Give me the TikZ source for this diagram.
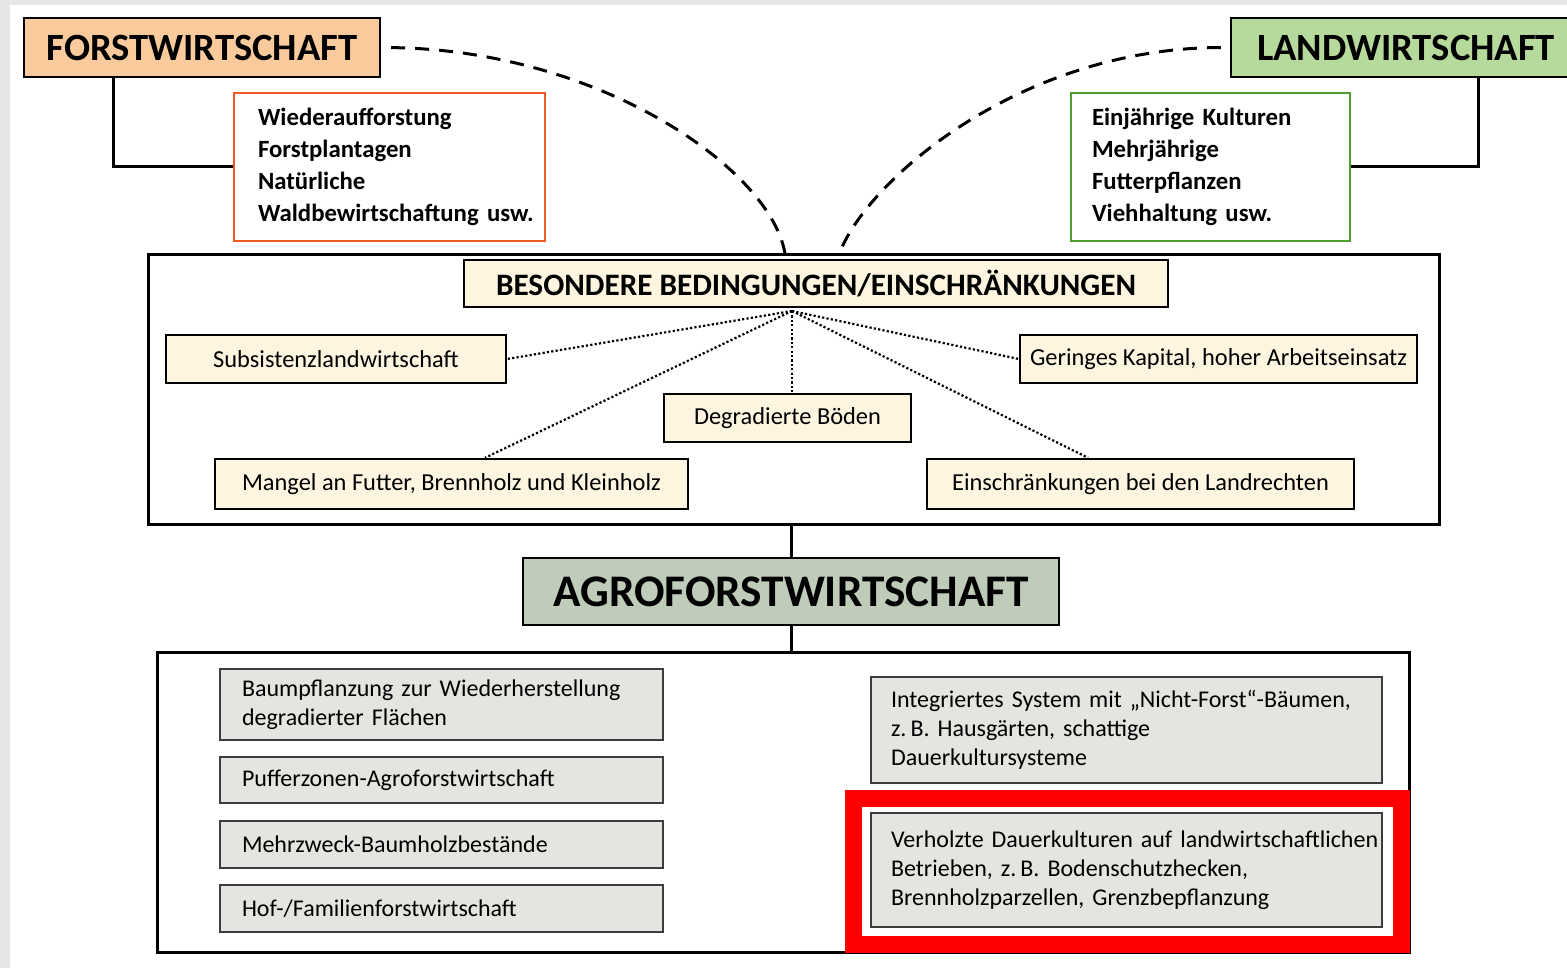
\documentclass[tikz,border=0pt]{standalone}
\usepackage{fontspec}
\setmainfont{Carlito}
\definecolor{bggray}{HTML}{E6E6E6}
\definecolor{peach}{HTML}{F9CB9C}
\definecolor{lgreen}{HTML}{B6D99C}
\definecolor{orangeb}{HTML}{F15A22}
\definecolor{greenb}{HTML}{4F9F2F}
\definecolor{cream}{HTML}{FDF5E0}
\definecolor{agrofill}{HTML}{C0CCBA}
\definecolor{boxgray}{HTML}{E2E5E0}
\definecolor{boxline}{HTML}{3C3C3C}
\definecolor{hlred}{HTML}{FF0000}
\begin{document}
\begin{tikzpicture}[x=0.5pt,y=-0.5pt,
  headbox/.style={draw=black,line width=1.2pt,inner sep=0pt,minimum height=29.5pt,
    font=\bfseries\fontsize{19.3}{23}\selectfont},
  listbox/.style={line width=1.3pt,fill=white,inner ysep=0pt,align=left,minimum height=74pt,
    font=\bfseries\fontsize{12.4}{16}\selectfont},
  condbox/.style={draw=black,line width=1.2pt,fill=cream,inner sep=0pt,
    font=\fontsize{12.2}{15}\selectfont},
  frame/.style={draw=black,line width=1.5pt,inner sep=0pt},
  agrobox/.style={draw=boxline,line width=1pt,fill=boxgray,inner ysep=0pt,align=left,
    font=\fontsize{12}{14.5}\selectfont},
  solidcon/.style={draw=black,line width=1.5pt},
  dashcon/.style={draw=black,line width=1.5pt,dash pattern=on 7pt off 5pt},
  dotcon/.style={draw=black,line width=1.1pt,dash pattern=on 1.1pt off 1.1pt}
]
\useasboundingbox (0,0) rectangle (1567,968);
\fill[bggray] (0,0) rectangle (1567,968);
\fill[white] (10,5) rectangle (1567,968);

% top
\node[headbox,fill=peach,minimum width=178pt] (forst) at (202,47.5) {FORSTWIRTSCHAFT};
\node[headbox,fill=lgreen,minimum width=175pt] (land) at (1406,47.5) {LANDWIRTSCHAFT};

\node[listbox,draw=orangeb,text width=131.5pt,inner xsep=12pt] (orange) at (389.5,167)
  {Wiederaufforstung\\Forstplantagen\\Natürliche\\\mbox{Waldbewirtschaftung usw.}};
\node[listbox,draw=greenb,text width=118.5pt,inner xsep=10.5pt] (green) at (1210.5,167)
  {Einjährige Kulturen\\Mehrjährige\\Futterpflanzen\\Viehhaltung usw.};

\coordinate (fx) at (113,0);
\coordinate (lx) at (1478,0);
\draw[solidcon] (forst.south -| fx) |- (orange.west);
\draw[solidcon] (land.south -| lx) |- (green.east);

% conditions frame
\node[frame,minimum width=645.5pt,minimum height=135pt] (cond) at (793.5,389) {};
\coordinate (fin1) at (785,254);
\coordinate (fin2) at (840,252);
\draw[dashcon,shorten <=5pt] (forst.east) .. controls (600,50) and (772,170) .. (fin1);
\draw[dashcon,shorten <=4.5pt] (land.west) .. controls (1020,48) and (868,180) .. (fin2);

\node[condbox,minimum width=352pt,minimum height=23.5pt,
  font=\bfseries\fontsize{15.6}{19}\selectfont] (bes) at (816,283.5)
  {BESONDERE BEDINGUNGEN/EINSCHRÄNKUNGEN};
\node[condbox,minimum width=170pt,minimum height=24pt] (subs) at (336,359) {Subsistenzlandwirtschaft};
\node[condbox,minimum width=198.5pt,minimum height=24pt] (ger) at (1218.5,359) {Geringes Kapital, hoher Arbeitseinsatz};
\node[condbox,minimum width=123.5pt,minimum height=24pt] (deg) at (787.5,418) {Degradierte Böden};
\node[condbox,minimum width=236.5pt,minimum height=25pt] (mang) at (451.5,484) {Mangel an Futter, Brennholz und Kleinholz};
\node[condbox,minimum width=213.5pt,minimum height=25pt] (eins) at (1140.5,484) {Einschränkungen bei den Landrechten};

\coordinate (hub) at (792,311);
\draw[dotcon] (hub) -- (subs.east);
\draw[dotcon] (hub) -- (ger.west);
\draw[dotcon] (hub) -- (hub |- deg.north);
\draw[dotcon] (hub) -- ([xshift=16.75pt]mang.north);
\draw[dotcon] (hub) -- ([xshift=-26.25pt]eins.north);

% agroforst
\node[draw=black,line width=1.3pt,fill=agrofill,inner sep=0pt,minimum width=268pt,minimum height=33.5pt,
  font=\bfseries\fontsize{22.6}{27}\selectfont] (agro) at (791,591.5) {AGROFORSTWIRTSCHAFT};
\node[frame,minimum width=626pt,minimum height=150pt] (lowf) at (783,802) {};
\draw[solidcon] (agro.north |- cond.south) -- (agro.north);
\draw[solidcon] (agro.south) -- (agro.south |- lowf.north);

\node[agrobox,text width=199.5pt,inner xsep=11pt,minimum height=35.5pt] (baum) at (441.5,704.5)
  {Baumpflanzung zur Wiederherstellung\\degradierter Flächen};
\node[agrobox,text width=199.5pt,inner xsep=11pt,minimum height=23pt] (puff) at (441.5,780)
  {Pufferzonen-Agroforstwirtschaft};
\node[agrobox,text width=199.5pt,inner xsep=11pt,minimum height=23.5pt] (mehr) at (441.5,844.5)
  {Mehrzweck-Baumholzbestände};
\node[agrobox,text width=199.5pt,inner xsep=11pt,minimum height=23.5pt] (hof) at (441.5,908.5)
  {Hof-/Familienforstwirtschaft};

\node[agrobox,text width=235.5pt,inner xsep=10pt,minimum height=53pt] (integ) at (1126.5,730)
  {\mbox{Integriertes System mit „Nicht-Forst“-Bäumen,}\\z.\,B. Hausgärten, schattige\\Dauerkultursysteme};
\node[agrobox,text width=235.5pt,inner xsep=10pt,minimum height=57pt] (verh) at (1126.5,870)
  {\mbox{Verholzte Dauerkulturen auf landwirtschaftlichen}\\Betrieben, z.\,B. Bodenschutzhecken,\\Brennholzparzellen, Grenzbepflanzung};

\node[draw=hlred,line width=8.5pt,inner sep=0pt,minimum width=273.75pt,minimum height=73pt] (hl) at (1127.25,871) {};
\end{tikzpicture}
\end{document}
